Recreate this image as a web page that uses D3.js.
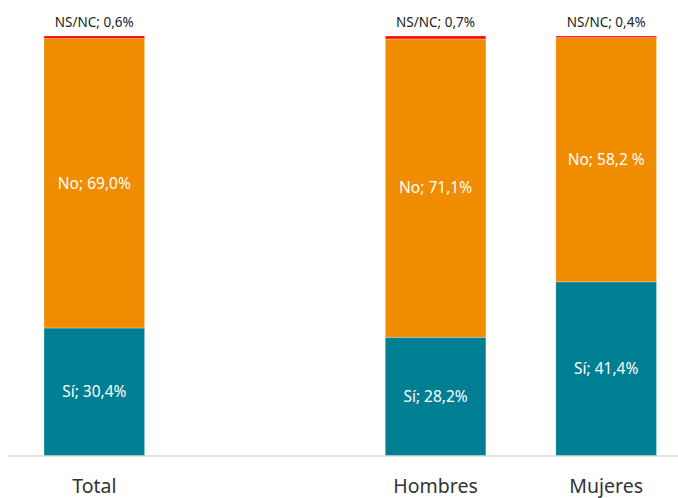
<!DOCTYPE html>
<html><head><meta charset="utf-8">
<script src="https://cdn.jsdelivr.net/npm/d3@7"></script>
<style>html,body{margin:0;padding:0;background:#fff;}svg{display:block;}</style>
</head><body>
<svg id="c" width="678" height="498"></svg>
<script>
const categories = ["Total", "", "Hombres", "Mujeres"];
const si   = [30.4, null, 28.2, 41.4];
const no   = [69.0, null, 71.1, 58.2];
const nsnc = [0.6, null, 0.7, 0.4];
const siLabels   = ["Sí; 30,4%", "", "Sí; 28,2%", "Sí; 41,4%"];
const noLabels   = ["No; 69,0%", "", "No; 71,1%", "No; 58,2 %"];
const nsncLabels = ["NS/NC; 0,6%", "", "NS/NC; 0,7%", "NS/NC; 0,4%"];

const svg = d3.select("#c");
const font = "'Noto Sans', 'Open Sans', sans-serif";
const keys = categories.map((c, i) => "k" + i);
const x = d3.scaleBand().domain(keys).range([9, 691.5]).paddingInner(0.41).paddingOuter(0.205);
const y = d3.scaleLinear().domain([0, 100]).range([455.5, 36]);

const rows = categories.map((c, i) => ({key: keys[i], cat: c, si: si[i], no: no[i], nsnc: nsnc[i], i}))
  .filter(d => d.si != null);
const stack = d3.stack().keys(["si", "no", "nsnc"])(rows);
const colors = {si: "#007f92", no: "#f08c00", nsnc: "#ff0000"};

// axis line
svg.append("line").attr("x1", 9).attr("x2", 678).attr("y1", y(0) + 0.5).attr("y2", y(0) + 0.5)
  .attr("stroke", "#d9d9d9").attr("stroke-width", 1.5);

stack.forEach(layer => {
  svg.append("g").selectAll("rect").data(layer).join("rect")
    .attr("x", d => x(d.data.key))
    .attr("width", x.bandwidth())
    .attr("y", d => y(d[1]))
    .attr("height", d => y(d[0]) - y(d[1]))
    .attr("fill", colors[layer.key])
    .attr("stroke", "#ffffff").attr("stroke-opacity", 0.5).attr("stroke-width", 0.6);
});

const inner = [{k: "si", labels: siLabels}, {k: "no", labels: noLabels}];
stack.slice(0, 2).forEach((layer, li) => {
  svg.append("g").selectAll("text").data(layer).join("text")
    .attr("x", d => x(d.data.key) + x.bandwidth() / 2)
    .attr("y", d => (y(d[0]) + y(d[1])) / 2)
    .attr("dy", "0.35em")
    .attr("text-anchor", "middle")
    .attr("fill", "#ffffff")
    .style("font-family", font).style("font-size", "15.5px")
    .text(d => inner[li].labels[d.data.i]);
});

svg.append("g").selectAll("text").data(stack[2]).join("text")
  .attr("x", d => x(d.data.key) + x.bandwidth() / 2)
  .attr("y", d => y(d[1]) - 14)
  .attr("dy", "0.35em")
  .attr("text-anchor", "middle")
  .attr("fill", "#222")
  .style("font-family", font).style("font-size", "13.5px")
  .text(d => nsncLabels[d.data.i]);

// category labels
svg.append("g").selectAll("text").data(rows).join("text")
  .attr("x", d => x(d.key) + x.bandwidth() / 2)
  .attr("y", 486)
  .attr("dy", "0.35em")
  .attr("text-anchor", "middle")
  .attr("fill", "#333")
  .style("font-family", font).style("font-size", "19.5px")
  .text(d => d.cat);
</script>
</body></html>
